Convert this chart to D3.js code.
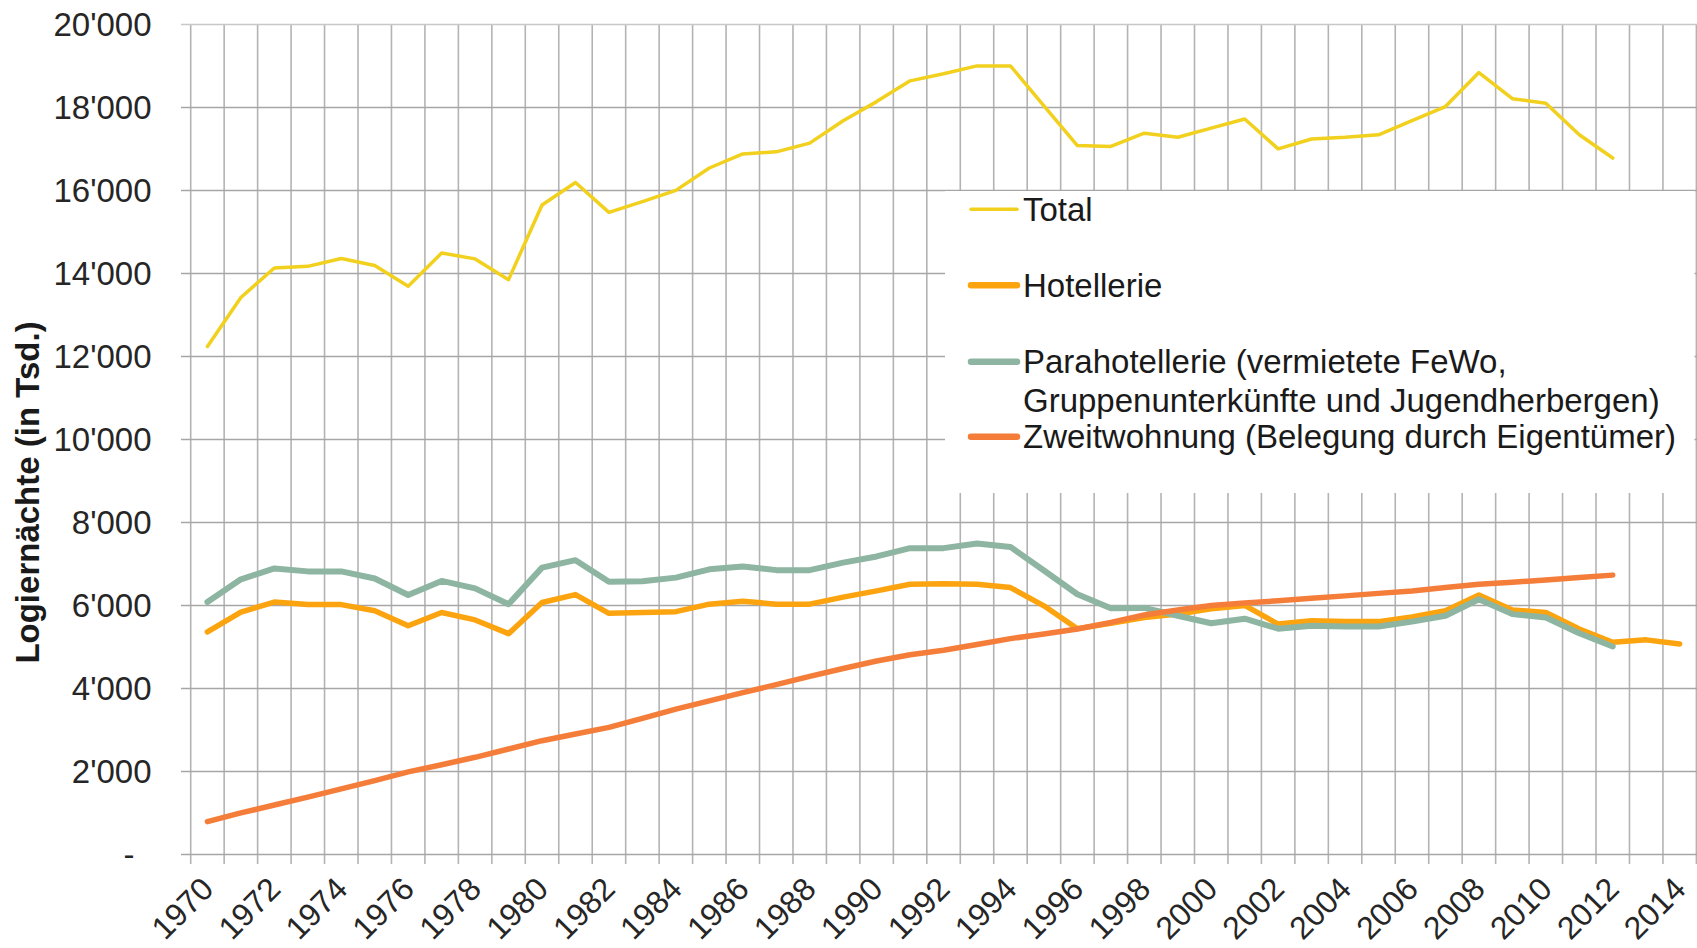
<!DOCTYPE html>
<html>
<head>
<meta charset="utf-8">
<script src="https://cdn.jsdelivr.net/npm/d3@7"></script>
<style>
  body { margin: 0; background: #fff; }
  text { font-family: "Liberation Sans", Arial, sans-serif; }
</style>
</head>
<body>
<div id="chart"></div>
<script>
// Logiernächte (in Tsd.) 1970-2014
const years = [1970, 1971, 1972, 1973, 1974, 1975, 1976, 1977, 1978, 1979,
               1980, 1981, 1982, 1983, 1984, 1985, 1986, 1987, 1988, 1989,
               1990, 1991, 1992, 1993, 1994, 1995, 1996, 1997, 1998, 1999,
               2000, 2001, 2002, 2003, 2004, 2005, 2006, 2007, 2008, 2009,
               2010, 2011, 2012, 2013, 2014];

const total = [12230, 13410, 14120, 14160, 14350, 14180, 13680, 14480, 14340, 13840,
               15640, 16180, 15460, 15720, 15990, 16530, 16870, 16920, 17130, 17670,
               18130, 18630, 18800, 18990, 18990, 18030, 17070, 17050, 17370, 17270,
               17490, 17710, 16990, 17230, 17270, 17330, 17670, 18010, 18830, 18200,
               18090, 17330, 16770, null, null];

const hotellerie = [5350, 5830, 6070, 6010, 6010, 5860, 5500, 5820, 5640, 5310,
                    6060, 6250, 5800, 5820, 5840, 6020, 6090, 6020, 6020, 6190,
                    6340, 6500, 6510, 6500, 6420, 5980, 5430, 5560, 5700, 5780,
                    5910, 5990, 5540, 5620, 5600, 5600, 5710, 5860, 6240, 5880,
                    5820, 5420, 5100, 5160, 5060];

const parahotellerie = [6070, 6620, 6880, 6810, 6810, 6640, 6240, 6580, 6400, 6020,
                        6900, 7080, 6560, 6570, 6660, 6860, 6930, 6840, 6840, 7020,
                        7170, 7370, 7370, 7480, 7400, 6830, 6260, 5920, 5930, 5740,
                        5560, 5670, 5430, 5500, 5480, 5480, 5600, 5740, 6140, 5780,
                        5700, 5320, 5000, null, null];

const zweitwohnung = [780, 990, 1180, 1370, 1570, 1770, 1980, 2150, 2330, 2530,
                      2730, 2890, 3050, 3270, 3490, 3690, 3890, 4080, 4280, 4470,
                      4650, 4800, 4910, 5050, 5190, 5300, 5420, 5580, 5760, 5880,
                      5990, 6050, 6100, 6160, 6220, 6280, 6340, 6420, 6500, 6550,
                      6600, 6660, 6720, null, null];

const yTicks = [0, 2000, 4000, 6000, 8000, 10000, 12000, 14000, 16000, 18000, 20000];

const series = [
    { name: "Total", values: total, color: "#F2D01E", width: 3.5 },
    { name: "Hotellerie", values: hotellerie, color: "#FCA40F", width: 5.5 },
    { name: "Parahotellerie (vermietete FeWo,|Gruppenunterkünfte und Jugendherbergen)", values: parahotellerie, color: "#8DB5A1", width: 6 },
    { name: "Zweitwohnung (Belegung durch Eigentümer)", values: zweitwohnung, color: "#F57D3A", width: 5.5 }
];

const width = 1697;
const height = 948;
const plotLeft = 190.7, plotRight = 1696.4, plotTop = 24, plotBottom = 854;

// Swiss number format with apostrophe
const ch = d3.formatLocale({ decimal: ".", thousands: "'", grouping: [3], currency: ["", ""] });
const fmt = ch.format(",d");

const svg = d3.select("#chart")
    .append("svg")
    .attr("width", width)
    .attr("height", height)
    .style("background", "#fff");

const x = d3.scaleBand()
    .domain(years)
    .range([plotLeft, plotRight])
    .padding(0);

const y = d3.scaleLinear()
    .domain([0, 20000])
    .range([plotBottom, plotTop]);

const cx = d => x(d) + x.bandwidth() / 2;

// Vertical gridlines at category boundaries (with tick marks below the axis)
const bounds = years.map(d => x(d)).concat([plotRight]);
svg.append("g")
    .selectAll("line")
    .data(bounds)
    .join("line")
    .attr("x1", d => d).attr("x2", d => d)
    .attr("y1", plotTop).attr("y2", plotBottom + 10)
    .attr("stroke", "#b3b3b3")
    .attr("stroke-width", 1.6);

// Y axis with horizontal gridlines
const yAxis = svg.append("g")
    .attr("transform", "translate(181,0)")
    .call(d3.axisLeft(y)
        .tickValues(yTicks)
        .tickSizeInner(-(width - 181))
        .tickSizeOuter(0)
        .tickPadding(29.5)
        .tickFormat(d => d === 0 ? "-" : fmt(d)));

yAxis.select(".domain").remove();
yAxis.selectAll(".tick line")
    .attr("stroke", d => d === 20000 ? "#c8c8c8" : "#a6a6a6")
    .attr("stroke-width", 1.6);
yAxis.selectAll(".tick text")
    .attr("fill", "#262626")
    .style("font-size", "33px")
    .attr("dy", "0.35em")
    .filter(d => d === 0)
    .attr("x", -46.5);

// Legend background (covers part of the grid)
const legend = svg.append("g");
legend.append("rect")
    .attr("x", 945)
    .attr("y", 191)
    .attr("width", 1694.5 - 945)
    .attr("height", 493 - 191)
    .attr("fill", "#fff");

// Lines
const line = d3.line()
    .defined(d => d.v != null)
    .x(d => cx(d.year))
    .y(d => y(d.v));

series.forEach(s => {
    svg.append("path")
        .datum(years.map((yr, i) => ({ year: yr, v: s.values[i] })))
        .attr("fill", "none")
        .attr("stroke", s.color)
        .attr("stroke-width", s.width)
        .attr("stroke-linejoin", "round")
        .attr("stroke-linecap", "round")
        .attr("d", line);
});

// Legend entries
const legendY = [209.3, 285.3, 361.7, 436.7];
series.forEach((s, i) => {
    legend.append("line")
        .attr("x1", 971).attr("x2", 1017)
        .attr("y1", legendY[i]).attr("y2", legendY[i])
        .attr("stroke", s.color)
        .attr("stroke-width", s.width === 3.5 ? 3.5 : 6.5)
        .attr("stroke-linecap", "round");
    const t = legend.append("text")
        .attr("x", 1023)
        .attr("y", legendY[i] + 11.5)
        .attr("fill", "#1a1a1a")
        .style("font-size", "33px");
    s.name.split("|").forEach((part, j) => {
        t.append("tspan")
            .attr("x", 1023)
            .attr("dy", j === 0 ? 0 : 38.5)
            .text(part);
    });
});

// X axis labels, every second year, rotated
svg.append("g")
    .selectAll("text")
    .data(years.filter(d => d % 2 === 0))
    .join("text")
    .attr("transform", d => `translate(${cx(d) + 8},891) rotate(-45)`)
    .attr("text-anchor", "end")
    .attr("fill", "#262626")
    .style("font-size", "32px")
    .text(d => d);

// Y axis title
svg.append("text")
    .attr("transform", "translate(39,492.5) rotate(-90)")
    .attr("text-anchor", "middle")
    .attr("fill", "#1a1a1a")
    .style("font-size", "33px")
    .style("font-weight", "bold")
    .text("Logiernächte (in Tsd.)");
</script>
</body>
</html>
